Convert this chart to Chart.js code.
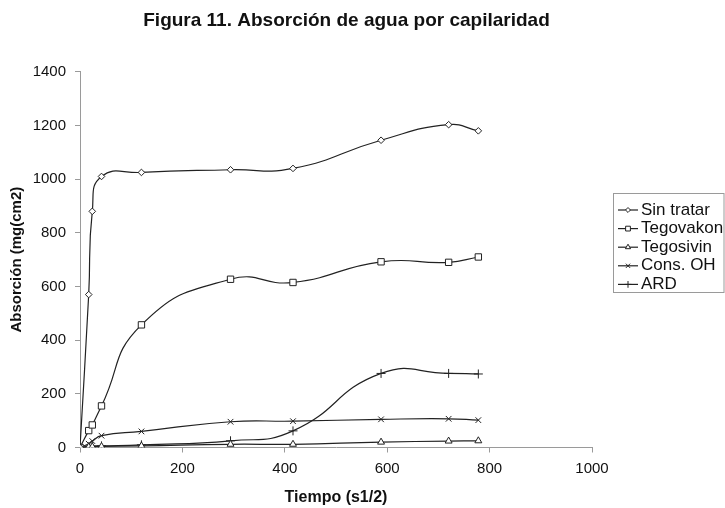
<!DOCTYPE html>
<html>
<head>
<meta charset="utf-8">
<script src="https://cdn.jsdelivr.net/npm/chart.js@4.4.1/dist/chart.umd.min.js"></script>
<style>
  html, body { margin: 0; padding: 0; background: #fff; }
</style>
</head>
<body>
<canvas id="myChart" width="725" height="508"></canvas>
<script>
const ctx = document.querySelector("#myChart").getContext("2d");

// Tiempo en raiz de segundos
const tiempo = [0, 17, 24, 42, 120, 294, 416, 588, 720, 778];

const sinTratar = [0, 570, 880, 1010, 1025, 1035, 1040, 1145, 1203, 1180];
const tegovakon = [0, 63, 84, 155, 457, 627, 615, 692, 690, 710];
const tegosivin = [0, 2, 3, 4, 6, 12, 12, 20, 24, 25];
const consOH = [0, 14, 24, 44, 60, 96, 98, 105, 107, 102];
const ard = [0, 3, 5, 6, 10, 25, 62, 276, 276, 274];

const nombres = ["Sin tratar", "Tegovakon", "Tegosivin", "Cons. OH", "ARD"];
const marcadores = ["rectRot", "rect", "triangle", "crossRot", "cross"];
const radios = [3.3, 4.5, 4, 4, 4.5];

const xTicks = [0, 200, 400, 600, 800, 1000];
const yTicks = [0, 200, 400, 600, 800, 1000, 1200, 1400];

const FONT = "'Liberation Sans', Arial, sans-serif";
const ink = "#222";
const axisGray = "#9a9a9a";

const series = [sinTratar, tegovakon, tegosivin, consOH, ard];

const datasets = series.map((vals, i) => ({
  label: nombres[i],
  data: tiempo.map((t, j) => ({ x: t, y: vals[j] })),
  showLine: true,
  tension: 0.5,
  borderColor: ink,
  borderWidth: 1.2,
  pointStyle: marcadores[i],
  pointRadius: radios[i],
  pointBorderWidth: 1,
  pointBorderColor: ink,
  pointBackgroundColor: "#fff",
}));

// leyenda con recuadro, linea y marcador como en Excel
const boxLegend = {
  id: "boxLegend",
  afterDraw(chart) {
    const c = chart.ctx;
    const left = chart.chartArea.right + 21;
    c.save();
    c.strokeStyle = axisGray;
    c.lineWidth = 1;
    c.strokeRect(left + 0.5, 193.5, 725 - left - 1.5, 99);
    c.font = "17px " + FONT;
    c.textBaseline = "middle";
    c.textAlign = "left";
    chart.data.datasets.forEach((ds, i) => {
      const y = 210 + i * 18.6;
      c.strokeStyle = ink;
      c.lineWidth = 1.2;
      c.beginPath();
      c.moveTo(left + 5, y);
      c.lineTo(left + 25, y);
      c.stroke();
      c.fillStyle = "#fff";
      c.lineWidth = 1;
      Chart.helpers.drawPoint(c, {
        pointStyle: ds.pointStyle,
        radius: ds.pointRadius * 0.75,
        borderWidth: 1,
        rotation: 0,
      }, left + 15, y);
      c.fillStyle = "#111";
      c.fillText(ds.label, left + 28, y);
    });
    c.restore();
  },
};

const config = {
  type: "scatter",
  data: { datasets },
  options: {
    responsive: false,
    animation: false,
    layout: { padding: { left: 0, right: 32, top: 0, bottom: 0 } },
    plugins: {
      legend: { display: false },
      tooltip: { enabled: false },
      title: {
        display: true,
        text: "Figura 11. Absorción de agua por capilaridad",
        color: "#111",
        font: { family: FONT, size: 19, weight: "bold", lineHeight: 1.2 },
        padding: { top: 9, bottom: 40 },
      },
    },
    scales: {
      x: {
        type: "linear",
        min: 0,
        max: 1000,
        afterBuildTicks: (s) => { s.ticks = xTicks.map((v) => ({ value: v })); },
        afterFit: (s) => { s.height = 60.5; },
        grid: { drawOnChartArea: false, color: axisGray, tickLength: 5 },
        border: { color: axisGray },
        ticks: {
          color: "#111",
          padding: 7,
          font: { family: FONT, size: 15 },
          callback: (value) => String(value),
        },
        title: {
          display: true,
          text: "Tiempo (s1/2)",
          color: "#111",
          font: { family: FONT, size: 16, weight: "bold", lineHeight: 1.2 },
          padding: { top: 0, bottom: 1 },
        },
      },
      y: {
        type: "linear",
        min: 0,
        max: 1400,
        afterBuildTicks: (s) => { s.ticks = yTicks.map((v) => ({ value: v })); },
        afterFit: (s) => { s.width = 80; },
        grid: { drawOnChartArea: false, color: axisGray, tickLength: 5 },
        border: { color: axisGray },
        ticks: {
          color: "#111",
          padding: 9,
          font: { family: FONT, size: 15 },
          callback: (value) => String(value),
        },
        title: {
          display: true,
          text: "Absorción (mg(cm2)",
          color: "#111",
          font: { family: FONT, size: 15, weight: "bold", lineHeight: 1.2 },
          padding: { top: 8, bottom: 0 },
        },
      },
      // eje vacio a la derecha que deja sitio para la leyenda
      yR: {
        position: "right",
        display: true,
        afterFit: (s) => { s.width = 101; },
        grid: { display: false },
        border: { display: false },
        ticks: { display: false },
      },
    },
  },
  plugins: [boxLegend],
};

const myChart = new Chart(ctx, config);
</script>
</body>
</html>
